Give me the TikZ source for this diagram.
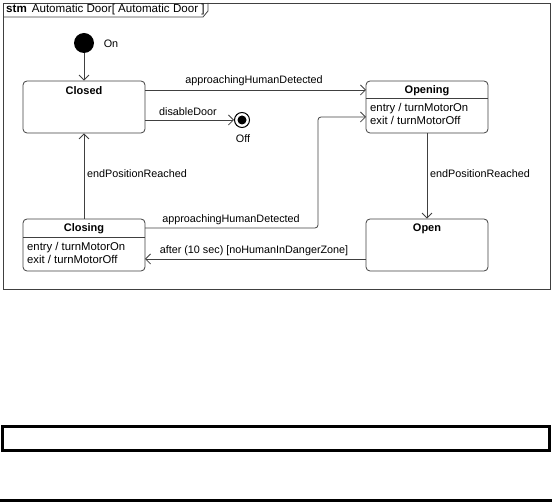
\documentclass[tikz,border=0pt]{standalone}
\usepackage{fontspec}
\setmainfont{Liberation Sans}
\usetikzlibrary{arrows.meta}
\begin{document}
\begin{tikzpicture}[x=1pt,y=-1pt,
  every node/.style={font=\fontsize{10.8}{12}\selectfont, inner sep=0pt},
  ln/.style={draw=black!75, line width=0.8pt},
  statebox/.style={ln, rounded corners=4pt, minimum width=122pt, minimum height=52pt, fill=white},
  ttl/.style={font=\fontsize{11}{12}\selectfont\bfseries},
  act/.style={anchor=west, font=\fontsize{11.3}{12}\selectfont},
  tr/.style={ln, -{Straight Barb[length=5pt,width=10pt]}},
  thickbox/.style={draw=black, line width=3pt}]
\useasboundingbox (0,0) rectangle (552,502);
% frame
\draw[ln] (3,3) rectangle (550,289);
\draw[ln] (3,17) -- (203,17) -- (208,11) -- (208,3);
\node[anchor=west, font=\fontsize{11.6}{12}\selectfont] (hdr) at (6,10) {\textbf{stm}\hspace{5pt}Automatic Door[ Automatic Door ]};
% states
\node[statebox] (closed) at (84,107) {};
\node[ttl] (closedt) at (84,91) {Closed};
\node[statebox] (opening) at (427,107) {};
\node[ttl] (openingt) at (427,91) {Opening};
\draw[ln] (366,98) -- (488,98);
\node[act] (openinga) at (370,109) {entry / turnMotorOn};
\node[act] (openingb) at (370,120) {exit / turnMotorOff};
\node[statebox] (open) at (427,245) {};
\node[ttl] (opent) at (427,229) {Open};
\node[statebox] (closing) at (84,245) {};
\node[ttl] (closingt) at (84,229) {Closing};
\draw[ln] (23,237) -- (145,237);
\node[act] (closinga) at (27,248) {entry / turnMotorOn};
\node[act] (closingb) at (27,259) {exit / turnMotorOff};
% pseudo states
\node[circle, fill=black, minimum size=20pt] (init) at (84,43) {};
\node (onl) at (111,44) {On};
\node[circle, draw=black, line width=1pt, minimum size=15pt] (off) at (242,120) {};
\fill[black] (off.center) circle (4.5pt);
\node (offl) at (243,139) {Off};
% coordinates
\coordinate (c1) at (145,90);
\coordinate (c2) at (366,90);
\coordinate (c3) at (145,120);
\coordinate (c4) at (145,228);
\coordinate (c5) at (318,228);
\coordinate (c6) at (318,117);
\coordinate (c7) at (366,117);
\coordinate (c8) at (366,259);
\coordinate (c9) at (145,259);
% transitions
\draw[tr] (init) -- (closed.north);
\draw[tr] (c1) -- (c2);
\node (l1) at (254,81) {approachingHumanDetected};
\draw[tr] (c3) -- (off);
\node (l2) at (188,112) {disableDoor};
\draw[tr] (opening.south) -- (open.north);
\node[anchor=west] (l3) at (430,174) {endPositionReached};
\draw[tr] (closing.north) -- (closed.south);
\node[anchor=west] (l4) at (87,174) {endPositionReached};
\draw[tr, rounded corners=3pt] (c4) -- (c5) -- (c6) -- (c7);
\node (l5) at (231,220) {approachingHumanDetected};
\draw[tr] (c8) -- (c9);
\node (l6) at (254,251) {after (10 sec) [noHumanInDangerZone]};
% bottom decorations
\draw[thickbox] (2.5,426.5) rectangle (549.5,450.5);
\draw[line width=3pt] (0,500.5) -- (552,500.5);
\end{tikzpicture}
\end{document}
